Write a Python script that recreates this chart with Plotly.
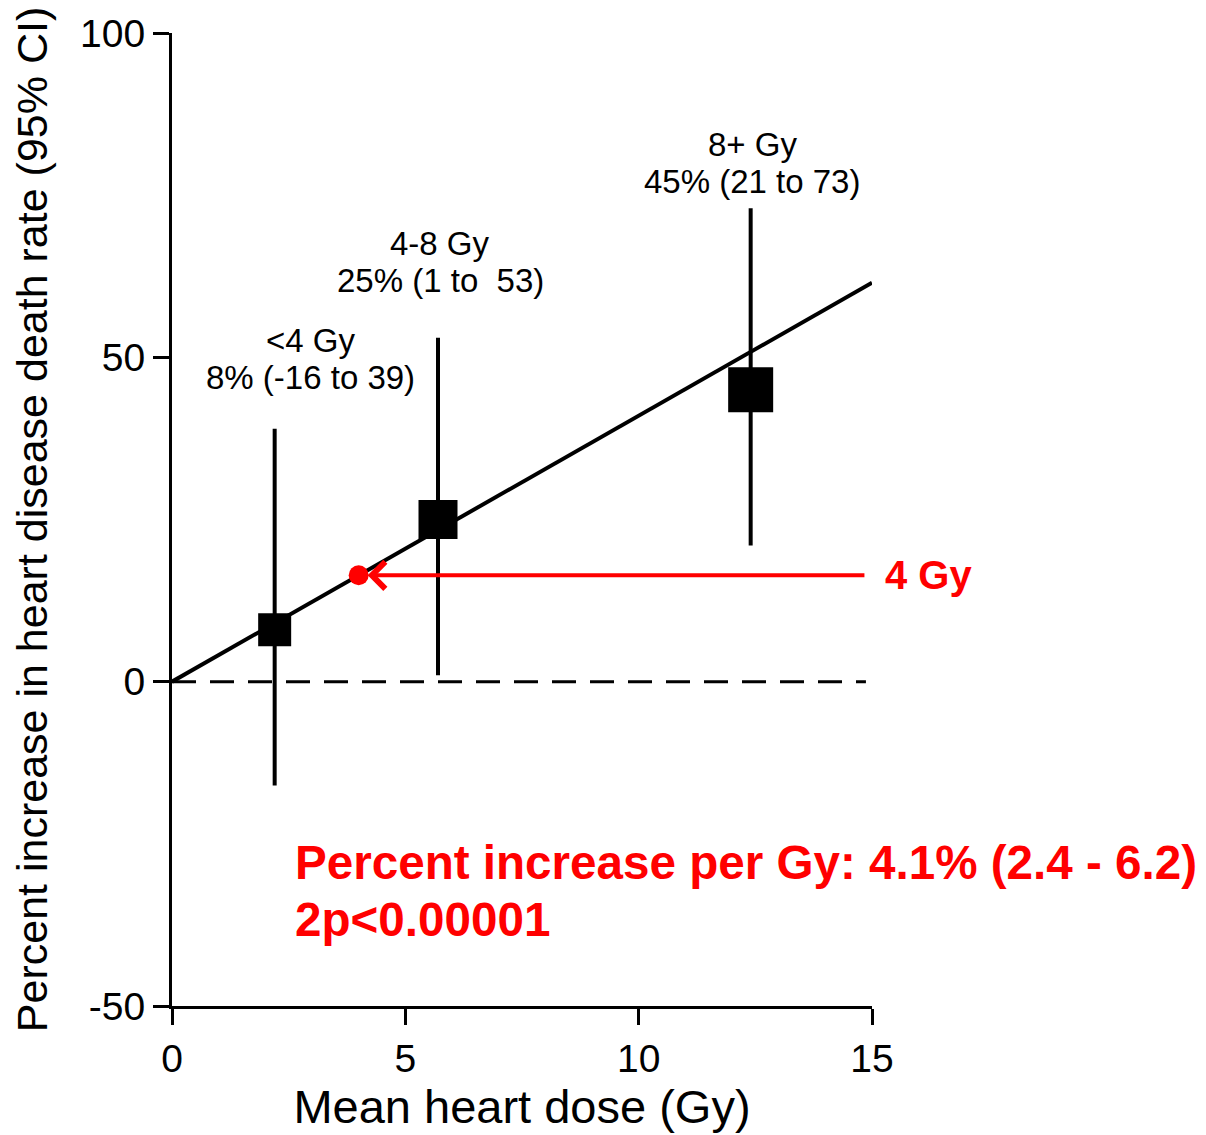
import plotly.graph_objects as go

# ---- data ----
groups = ["<4 Gy", "4-8 Gy", "8+ Gy"]
mean_dose = [2.2, 5.7, 12.4]
pct_increase = [8, 25, 45]
ci_low = [-16, 1, 21]
ci_high = [39, 53, 73]
marker_sizes = [33, 39, 45]
value_labels = ["8% (-16 to 39)", "25% (1 to  53)", "45% (21 to 73)"]

slope_per_gy = 4.1
fit_x = [0, 15]
fit_y = [v * slope_per_gy for v in fit_x]

ref_dose = 4
ref_y = ref_dose * slope_per_gy

x_ticks = [0, 5, 10, 15]
y_ticks = [-50, 0, 50, 100]
y_tick_text = ["-50", "0", "50", "100"]

X_MAX = 15
FONT = "Liberation Sans, Arial, sans-serif"
RED = "#ff0000"

fig = go.Figure()

# dashed zero line
fig.add_trace(go.Scatter(x=[0, 14.87], y=[0, 0], mode="lines",
                         line=dict(color="black", width=3, dash="24px,14px"),
                         hoverinfo="skip", showlegend=False))
# fitted line
fig.add_trace(go.Scatter(x=fit_x, y=fit_y, mode="lines",
                         line=dict(color="black", width=4),
                         hoverinfo="skip", showlegend=False))
# points with CIs
fig.add_trace(go.Scatter(
    x=mean_dose, y=pct_increase, mode="markers",
    marker=dict(symbol="square", size=marker_sizes, color="black",
                opacity=1, line=dict(width=0)),
    error_y=dict(type="data", symmetric=False,
                 array=[h - v for h, v in zip(ci_high, pct_increase)],
                 arrayminus=[v - l for l, v in zip(ci_low, pct_increase)],
                 color="black", thickness=4, width=0),
    showlegend=False))
# red reference point
fig.add_trace(go.Scatter(x=[ref_dose], y=[ref_y], mode="markers",
                         marker=dict(symbol="circle", size=20, color=RED, opacity=1),
                         showlegend=False))

# group labels (two lines each)
label_x = [2.96, 5.75, 12.43]
label_y1 = [52.6, 67.6, 82.8]
label_y2 = [46.9, 61.9, 77.1]
for g, vl, lx, y1, y2 in zip(groups, value_labels, label_x, label_y1, label_y2):
    fig.add_annotation(x=lx, y=y1, text=g, showarrow=False, xanchor="center",
                       yanchor="middle", font=dict(family=FONT, size=33, color="black"))
    fig.add_annotation(x=lx, y=y2, text=vl, showarrow=False, xanchor="center",
                       yanchor="middle", font=dict(family=FONT, size=33, color="black"))

# arrow
fig.add_annotation(x=ref_dose, y=ref_y, ax=14.87, ay=ref_y, xref="x", yref="y",
                   axref="x", ayref="y", text="", showarrow=True,
                   arrowhead=4, arrowsize=1.3, arrowwidth=4, arrowcolor=RED,
                   standoff=9)
fig.add_annotation(x=15.24 / X_MAX, xref="paper", y=ref_y, yref="y",
                   text="<b>4 Gy</b>", showarrow=False,
                   xanchor="left", yanchor="middle",
                   font=dict(family=FONT, size=40, color=RED))

fig.add_annotation(x=2.59, y=-27.9, text="<b>Percent increase per Gy: 4.1% (2.4 - 6.2)</b>",
                   showarrow=False, xanchor="left", yanchor="middle",
                   font=dict(family=FONT, size=47.6, color=RED))
fig.add_annotation(x=2.59, y=-36.6, text="<b>2p<0.00001</b>",
                   showarrow=False, xanchor="left", yanchor="middle",
                   font=dict(family=FONT, size=47.6, color=RED))

fig.update_layout(
    width=1206, height=1135, autosize=False,
    margin=dict(l=172, r=334, t=30, b=128, pad=0),
    paper_bgcolor="white", plot_bgcolor="white",
    font=dict(family=FONT, color="black"),
    showlegend=False,
)
fig.update_xaxes(range=[0, X_MAX], tickvals=x_ticks, showgrid=False, zeroline=False,
                 showline=True, linecolor="black", linewidth=3,
                 ticks="outside", ticklen=16, tickwidth=3, tickcolor="black",
                 tickfont=dict(family=FONT, size=39, color="black"),
                 title=dict(text="Mean heart dose (Gy)", standoff=10,
                            font=dict(family=FONT, size=47, color="black")))
fig.update_yaxes(range=[-50, 100], tickvals=y_ticks, ticktext=y_tick_text,
                 showgrid=False, zeroline=False,
                 showline=True, linecolor="black", linewidth=3,
                 ticks="outside", ticklen=16, tickwidth=3, tickcolor="black",
                 tickfont=dict(family=FONT, size=39, color="black"),
                 title=dict(text="Percent increase in heart disease death rate (95% CI)",
                            standoff=20,
                            font=dict(family=FONT, size=43, color="black")))

fig.write_html("out.html")
